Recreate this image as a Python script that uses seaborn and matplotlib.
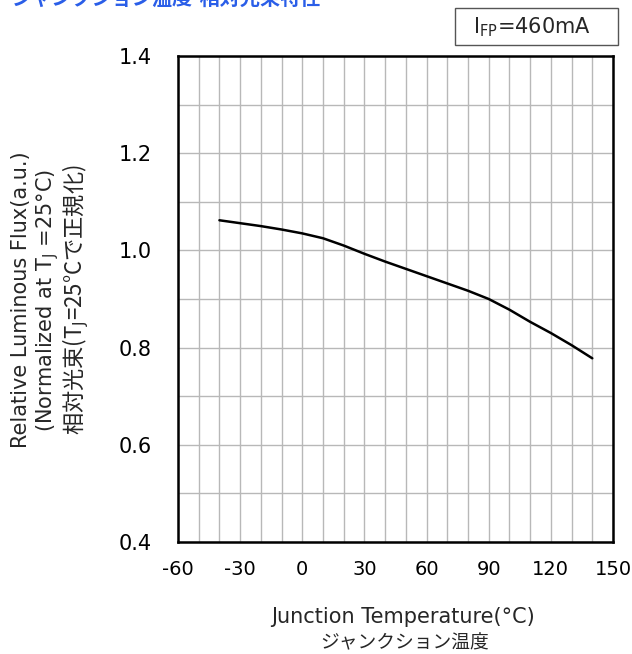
import matplotlib
matplotlib.use("Agg")
import matplotlib.pyplot as plt
from matplotlib.patches import Rectangle
import numpy as np
import pandas as pd
import seaborn as sns

# ---- data ----
temperature = [-40, -30, -20, -10, 0, 10, 20, 30, 40, 50, 60, 70, 80, 90, 100, 110, 120, 130, 140]
rel_flux = [1.062, 1.056, 1.050, 1.043, 1.035, 1.025, 1.010, 0.993, 0.977, 0.962, 0.947,
            0.932, 0.917, 0.900, 0.878, 0.853, 0.830, 0.805, 0.778]
x_ticks = [-60, -30, 0, 30, 60, 90, 120, 150]
y_ticks = [0.4, 0.6, 0.8, 1.0, 1.2, 1.4]
title = "ジャンクション温度-相対光束特性"
condition = r"I$_\mathrm{FP}$=460mA"
xlabel_en = "Junction Temperature(°C)"
xlabel_jp = "ジャンクション温度"
ylabel_1 = "Relative Luminous Flux(a.u.)"
ylabel_2 = r"(Normalized at T$_\mathrm{J}$ =25°C)"
ylabel_3 = r"相対光束(T$_\mathrm{J}$=25°Cで正規化)"

sns.set_style("white")
plt.rcParams['font.family'] = ['DejaVu Sans', 'Noto Sans CJK JP']
plt.rcParams['mathtext.fontset'] = 'dejavusans'

df = pd.DataFrame({"T": temperature, "flux": rel_flux})

fig = plt.figure(figsize=(6.32, 6.54), dpi=100)
ax = fig.add_axes([178/632, 112/654, 435/632, 486/654])

sns.lineplot(data=df, x="T", y="flux", ax=ax, color="black", linewidth=1.8)

ax.set_xlim(-60, 150)
ax.set_ylim(0.4, 1.4)
ax.set_xticks(x_ticks)
ax.set_yticks(y_ticks)
ax.set_xticks(np.arange(-60, 151, 10), minor=True)
ax.set_yticks(np.arange(0.4, 1.41, 0.1), minor=True)
ax.set_xticklabels([str(v) for v in x_ticks])
ax.set_yticklabels([f"{v:.1f}" for v in y_ticks])
ax.grid(True, which="both", color="#b8b8b8", linewidth=1.0)
ax.set_axisbelow(True)
ax.tick_params(axis="both", which="both", length=0, colors="black")
ax.tick_params(axis="x", pad=13, labelsize=14)
ax.tick_params(axis="y", pad=19, labelsize=15)
for s in ax.spines.values():
    s.set_visible(True)
    s.set_color("black")
    s.set_linewidth(1.8)
ax.set_xlabel("")
ax.set_ylabel("")

# y labels (three rotated lines)
yc = 1 - 300/654
fig.text(21/632, yc, ylabel_1, rotation=90, ha="center", va="center", fontsize=15)
fig.text(48/632, yc, ylabel_2, rotation=90, ha="center", va="center", fontsize=15)
fig.text(76/632, yc, ylabel_3, rotation=90, ha="center", va="center", fontsize=16,
         family=['Noto Sans CJK JP', 'DejaVu Sans'])

# x labels
fig.text(403/632, 1 - 617/654, xlabel_en, ha="center", va="center", fontsize=15)
fig.text(405/632, 1 - 643/654, xlabel_jp, ha="center", va="center", fontsize=13.5,
         family=['Noto Sans CJK JP', 'DejaVu Sans'])

# title (clipped at top, as in the reference)
fig.text(12/632, 1 + 2/654, title, ha="left", va="center", fontsize=14.5, fontweight="bold",
         color="#2a5ee8", family=['Noto Sans CJK JP', 'DejaVu Sans'])

# condition box
fig.patches.append(Rectangle((455/632, 1 - 45/654), 163/632, 37/654, transform=fig.transFigure,
                             facecolor="white", edgecolor="#555555", linewidth=1))
fig.text(532/632, 1 - 27/654, condition, ha="center", va="center", fontsize=15)

fig.savefig("out.png", dpi=100)
